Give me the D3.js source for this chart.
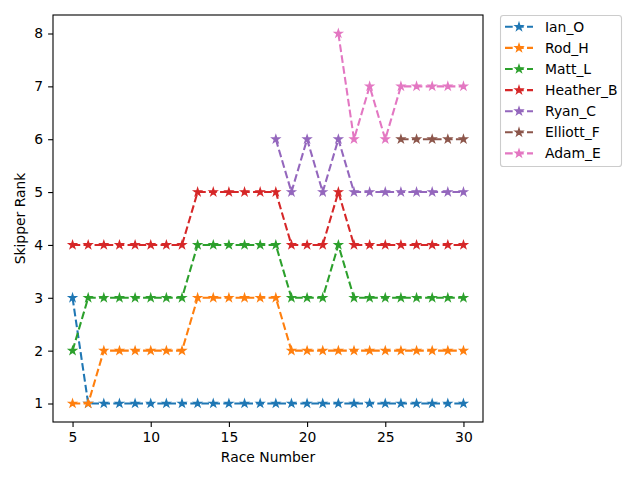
<!DOCTYPE html>
<html>
<head>
<meta charset="utf-8">
<script src="https://cdn.jsdelivr.net/npm/d3@7"></script>
<style>
  body { margin: 0; background: #fff; }
  svg { font-family: "DejaVu Sans", sans-serif; }
</style>
</head>
<body>
<div id="chart"></div>
<script>
const races = d3.range(5, 31);
const ian     = [3,1,1,1,1,1,1,1,1,1,1,1,1,1,1,1,1,1,1,1,1,1,1,1,1,1];
const rod     = [1,1,2,2,2,2,2,2,3,3,3,3,3,3,2,2,2,2,2,2,2,2,2,2,2,2];
const matt    = [2,3,3,3,3,3,3,3,4,4,4,4,4,4,3,3,3,4,3,3,3,3,3,3,3,3];
const heather = [4,4,4,4,4,4,4,4,5,5,5,5,5,5,4,4,4,5,4,4,4,4,4,4,4,4];
const ryan    = [null,null,null,null,null,null,null,null,null,null,null,null,null,6,5,6,5,6,5,5,5,5,5,5,5,5];
const elliott = [null,null,null,null,null,null,null,null,null,null,null,null,null,null,null,null,null,null,null,null,null,6,6,6,6,6];
const adam    = [null,null,null,null,null,null,null,null,null,null,null,null,null,null,null,null,null,8,6,7,6,7,7,7,7,7];
const names   = ['Ian_O','Rod_H','Matt_L','Heather_B','Ryan_C','Elliott_F','Adam_E'];
const colors  = ['#1f77b4','#ff7f0e','#2ca02c','#d62728','#9467bd','#8c564b','#e377c2'];
const series  = [ian, rod, matt, heather, ryan, elliott, adam];
const xTicks  = [5, 10, 15, 20, 25, 30];
const yTicks  = [1, 2, 3, 4, 5, 6, 7, 8];

const W = 640, H = 480;
const m = { left: 53, right: 483, top: 15, bottom: 422 };

const svg = d3.select('#chart').append('svg')
    .attr('width', W).attr('height', H);

const x = d3.scaleLinear().domain([3.75, 31.25]).range([m.left, m.right]);
const y = d3.scaleLinear().domain([0.65, 8.35]).range([m.bottom, m.top]);

// axes
const xAxis = svg.append('g')
    .attr('transform', `translate(0,${m.bottom})`)
    .call(d3.axisBottom(x).tickValues(xTicks).tickSize(4.9).tickPadding(4.9));
const yAxis = svg.append('g')
    .attr('transform', `translate(${m.left},0)`)
    .call(d3.axisLeft(y).tickValues(yTicks).tickSize(4.9).tickPadding(4.9));
[xAxis, yAxis].forEach(a => {
    a.select('.domain').remove();
    a.selectAll('line').attr('stroke', '#000').attr('stroke-width', 1.1);
    a.selectAll('text').attr('font-size', 13.9).attr('fill', '#000')
        .attr('font-family', '"DejaVu Sans", sans-serif');
});

const symbol = d3.symbol().type(d3.symbolStar).size(17);
const line = d3.line()
    .defined(d => d.v !== null)
    .x(d => x(d.r))
    .y(d => y(d.v));

series.forEach((vals, i) => {
    const pts = races.map((r, j) => ({ r: r, v: vals[j] }));
    const g = svg.append('g');
    g.append('path')
        .datum(pts)
        .attr('d', line)
        .attr('fill', 'none')
        .attr('stroke', colors[i])
        .attr('stroke-width', 2.08)
        .attr('stroke-dasharray', '7.7,3.3');
    g.selectAll('path.pt')
        .data(pts.filter(d => d.v !== null))
        .enter().append('path')
        .attr('class', 'pt')
        .attr('d', symbol)
        .attr('transform', d => `translate(${x(d.r)},${y(d.v)})`)
        .attr('fill', colors[i])
        .attr('stroke', colors[i])
        .attr('stroke-width', 1.3)
        .attr('stroke-linejoin', 'miter');
});

// frame
svg.append('rect')
    .attr('x', m.left).attr('y', m.top)
    .attr('width', m.right - m.left).attr('height', m.bottom - m.top)
    .attr('fill', 'none').attr('stroke', '#000').attr('stroke-width', 1.1);

// axis labels
svg.append('text')
    .attr('x', (m.left + m.right) / 2).attr('y', 462)
    .attr('text-anchor', 'middle').attr('font-size', 13.9)
    .text('Race Number');
svg.append('text')
    .attr('transform', `translate(25,${(m.top + m.bottom) / 2}) rotate(-90)`)
    .attr('text-anchor', 'middle').attr('font-size', 13.9)
    .text('Skipper Rank');

// legend
const lg = svg.append('g');
lg.append('rect')
    .attr('x', 500.5).attr('y', 15.5)
    .attr('width', 121).attr('height', 151)
    .attr('rx', 2.8)
    .attr('fill', '#fff')
    .attr('stroke', '#cccccc').attr('stroke-width', 1.1);
names.forEach((n, i) => {
    const cy = 26.8 + i * 21.1;
    lg.append('line')
        .attr('x1', 505).attr('x2', 533)
        .attr('y1', cy).attr('y2', cy)
        .attr('stroke', colors[i]).attr('stroke-width', 2.08)
        .attr('stroke-dasharray', '7.7,3.3');
    lg.append('path')
        .attr('d', symbol())
        .attr('transform', `translate(519,${cy})`)
        .attr('fill', colors[i]).attr('stroke', colors[i]).attr('stroke-width', 1.3);
    lg.append('text')
        .attr('x', 545).attr('y', cy + 5)
        .attr('font-size', 13.9)
        .text(n);
});
</script>
</body>
</html>
